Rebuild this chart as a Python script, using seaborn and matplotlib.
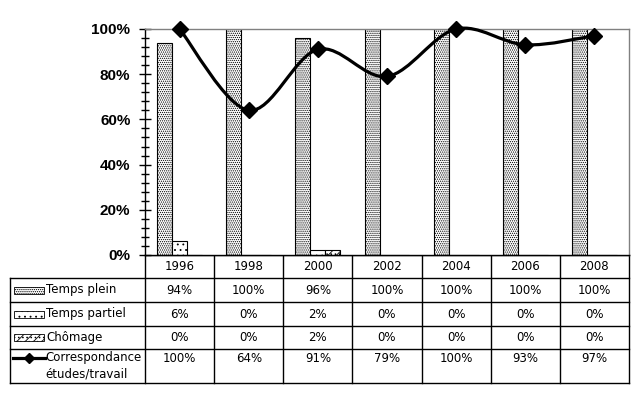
import numpy as np
import pandas as pd
import matplotlib
matplotlib.use("Agg")
import matplotlib.pyplot as plt
import seaborn as sns
from matplotlib.path import Path
from matplotlib.patches import PathPatch, Rectangle
from matplotlib.lines import Line2D
from matplotlib.ticker import MultipleLocator, FuncFormatter

# ---------------------------------------------------------------------------
# data
# ---------------------------------------------------------------------------
years = ["1996", "1998", "2000", "2002", "2004", "2006", "2008"]
temps_plein = [94, 100, 96, 100, 100, 100, 100]
temps_partiel = [6, 0, 2, 0, 0, 0, 0]
chomage = [0, 0, 2, 0, 0, 0, 0]
correspondance = [100, 64, 91, 79, 100, 93, 97]

bar_series = ["Temps plein", "Temps partiel", "Chômage"]
bar_values = [temps_plein, temps_partiel, chomage]
line_label = ["Correspondance", "études/travail"]
hatches = ["........", "...", "////...."]

df = pd.DataFrame({
    "annee": years * 3,
    "serie": [s for s in bar_series for _ in years],
    "val": [v / 100 for vals in bar_values for v in vals],
})

# ---------------------------------------------------------------------------
# layout (pixels)
# ---------------------------------------------------------------------------
W, H = 639, 399
X0, X1 = 145, 629          # plot area left / right
Y_TOP, Y_BOT = 29, 255     # 100% / 0%
T_LEFT = 10
ROWS = [255, 278, 302, 326, 349, 383]

plt.rcParams["font.family"] = ["Liberation Sans", "DejaVu Sans"]
plt.rcParams["hatch.linewidth"] = 0.6

fig = plt.figure(figsize=(W / 100, H / 100), dpi=100)
ax = fig.add_axes([X0 / W, 1 - Y_BOT / H, (X1 - X0) / W, (Y_BOT - Y_TOP) / H])

sns.barplot(data=df, x="annee", y="val", hue="serie", order=years,
            hue_order=bar_series, width=0.65,
            edgecolor="black", linewidth=0.8, ax=ax, legend=False,
            palette=["white"] * 3, saturation=1, errorbar=None)
for cont, h in zip(ax.containers, hatches):
    for bar in cont:
        bar.set_hatch(h)
        bar.set_facecolor("white")

# smoothed line (Excel-like curve)
xs = np.arange(len(years), dtype=float)
ys = np.array(correspondance) / 100
pts = np.column_stack([xs, ys])
ext = np.vstack([pts[0], pts, pts[-1]])
verts = [tuple(pts[0])]
codes = [Path.MOVETO]
for i in range(len(pts) - 1):
    p0, p1, p2, p3 = ext[i], ext[i + 1], ext[i + 2], ext[i + 3]
    c1 = p1 + (p2 - p0) / 6
    c2 = p2 - (p3 - p1) / 6
    verts += [tuple(c1), tuple(c2), tuple(p2)]
    codes += [Path.CURVE4] * 3
ax.add_patch(PathPatch(Path(verts, codes), fill=False, lw=2.3,
                       edgecolor="black", clip_on=False, zorder=4))
ax.plot(xs, ys, ls="none", marker="D", ms=8, color="black",
        clip_on=False, zorder=5)

ax.set_xlim(-0.5, len(years) - 0.5)
ax.set_ylim(0, 1)
ax.yaxis.set_major_locator(MultipleLocator(0.2))
ax.yaxis.set_minor_locator(MultipleLocator(0.04))
ax.yaxis.set_major_formatter(FuncFormatter(lambda v, p: f"{v * 100:.0f}%"))
ax.tick_params(axis="y", which="major", direction="inout", length=9,
               width=1, labelsize=11, pad=6)
ax.tick_params(axis="y", which="minor", direction="inout", length=6, width=1)
for lab in ax.get_yticklabels():
    lab.set_fontweight("bold")
ax.tick_params(axis="x", bottom=False, labelbottom=False)
ax.set_xlabel("")
ax.set_ylabel("")
for side in ["top", "right"]:
    ax.spines[side].set_color("#808080")
    ax.spines[side].set_linewidth(1)
for side in ["left", "bottom"]:
    ax.spines[side].set_color("black")
    ax.spines[side].set_linewidth(1)

# ---------------------------------------------------------------------------
# data table under the chart
# ---------------------------------------------------------------------------
tb = fig.add_axes([0, 0, 1, 1], zorder=-1)
tb.set_xlim(0, W)
tb.set_ylim(H, 0)
tb.axis("off")

col_w = (X1 - X0) / len(years)
lc = dict(color="black", lw=1)
tb.plot([X0, X1], [ROWS[0], ROWS[0]], **lc)
for y in ROWS[1:]:
    tb.plot([T_LEFT, X1], [y, y], **lc)
tb.plot([T_LEFT, T_LEFT], [ROWS[1], ROWS[-1]], **lc)
for i in range(len(years) + 1):
    tb.plot([X0 + i * col_w] * 2, [ROWS[0], ROWS[-1]], **lc)

tfont = dict(fontsize=8.5, family="DejaVu Sans")
for i, yr in enumerate(years):
    tb.text(X0 + (i + 0.5) * col_w, (ROWS[0] + ROWS[1]) / 2, yr,
            ha="center", va="center", **tfont)

row_vals = bar_values + [correspondance]
for r, vals in enumerate(row_vals):
    if r < 3:
        yc = (ROWS[r + 1] + ROWS[r + 2]) / 2
    else:
        yc = ROWS[4] + 9
    for i, v in enumerate(vals):
        tb.text(X0 + (i + 0.5) * col_w, yc, f"{v}%", ha="center",
                va="center", **tfont)

for r, (name, h) in enumerate(zip(bar_series, hatches)):
    yc = (ROWS[r + 1] + ROWS[r + 2]) / 2
    tb.add_patch(Rectangle((14, yc - 3.5), 30, 7, facecolor="white",
                           edgecolor="black", lw=0.6, hatch=h))
    tb.text(46, yc, name, ha="left", va="center", **tfont)

yc = ROWS[4] + 9
tb.add_line(Line2D([13, 45], [yc, yc], color="black", lw=2.3))
tb.plot([29], [yc], marker="D", ms=5, color="black")
tb.text(45, yc, line_label[0], ha="left", va="center", **tfont)
tb.text(45, yc + 16, line_label[1], ha="left", va="center", **tfont)

fig.savefig("out.png", dpi=100)
